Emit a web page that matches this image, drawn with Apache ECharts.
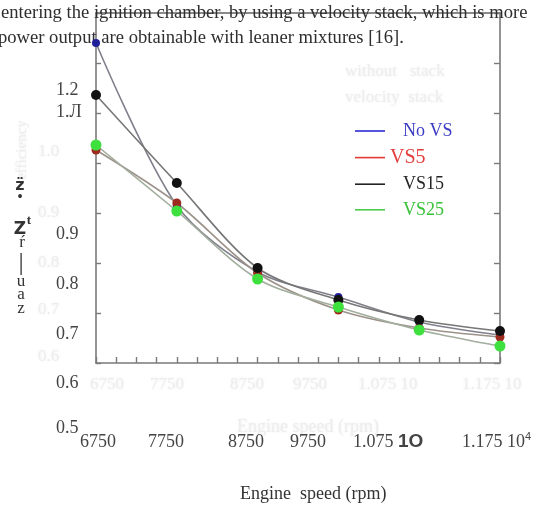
<!DOCTYPE html>
<html>
<head>
<meta charset="utf-8">
<style>
  html, body { margin: 0; padding: 0; background: #fff; }
  #chart { width: 536px; height: 508px; }
</style>
<script src="https://cdn.jsdelivr.net/npm/echarts@6/dist/echarts.min.js"></script>
</head>
<body>
<div id="chart"></div>
<script>
// engine speed (rpm) and the four stack configurations
const speeds = [6750, 7750, 8750, 9750, 10750, 11750];
const noVS = [1.24, 0.915, 0.782, 0.732, 0.682, 0.656];
const vs5 = [1.026, 0.92, 0.78, 0.706, 0.67, 0.652];
const vs15 = [1.136, 0.96, 0.79, 0.726, 0.686, 0.664];
const vs25 = [1.036, 0.904, 0.768, 0.712, 0.666, 0.634];

// stray tick labels as they sit on the page
const yStrayLabels = ["1.2", "1.Л", "0.9", "0.8", "0.7", "0.6", "0.5"];
const xStrayLabels = ["6750", "7750", "8750", "9750", "1.075 {b|1O}", "1.175 10{s|4}"];
const ghostXLabels = ["6750", "7750", "8750", "9750", "1.075 10", "1.175 10"];
const ghostYLabels = ["1.0", "0.9", "0.8", "0.7", "0.6"];

const serif = '"Liberation Serif", "DejaVu Serif", serif';

function txt(x, y, text, opt) {
	opt = opt || {};
	return {
		type: "text",
		x: x,
		y: y,
		z: opt.z || 1,
		rotation: opt.rotation || 0,
		style: {
			text: text,
			fill: opt.color || "#3a3a3a",
			font: (opt.weight || "normal") + " " + (opt.size || 18) + "px " + (opt.family || serif),
			textAlign: opt.align || "left",
			textVerticalAlign: "middle",
			textShadowColor: opt.blur ? opt.color : "transparent",
			textShadowBlur: opt.blur || 0,
			rich: opt.rich
		}
	};
}

const graphics = [];

// paragraph text above the figure
graphics.push(txt(1, 13, "entering the ignition chamber, by using a velocity stack, which is more", {color: "#2e2e2e", size: 18.6}));
graphics.push(txt(-2, 38, "power output are obtainable with leaner mixtures [16].", {color: "#2e2e2e", size: 18.6}));

// faint, blurred ghosts of the original labels
const ghost = {color: "#ededed", size: 17, blur: 3};
const ghostXPos = [90, 150, 230, 293, 358, 462];
ghostXLabels.forEach((t, i) => graphics.push(txt(ghostXPos[i], 385, t, ghost)));
const ghostYPos = [152, 213, 263, 310, 357];
ghostYLabels.forEach((t, i) => graphics.push(txt(38, ghostYPos[i], t, ghost)));
graphics.push(txt(237, 427, "Engine speed (rpm)", Object.assign({}, ghost, {size: 18})));
graphics.push(txt(345, 72, "without   stack", ghost));
graphics.push(txt(345, 98, "velocity  stack", ghost));
graphics.push(txt(22, 150, "efficiency", Object.assign({}, ghost, {size: 15, rotation: Math.PI / 2, align: "center"})));

// visible stray tick labels
const yStrayPos = [90, 112, 234, 284, 334, 383, 428];
yStrayLabels.forEach((t, i) => graphics.push(txt(56, yStrayPos[i], t, {color: "#444", size: 18})));
const xStrayPos = [80, 148, 228, 290, 353, 462];
xStrayLabels.forEach((t, i) => graphics.push(txt(xStrayPos[i], 442, t, {
	color: "#444",
	size: 18,
	rich: {
		b: {fontFamily: '"Liberation Sans", sans-serif', fontWeight: "bold", fontSize: 19, color: "#222"},
		s: {fontSize: 11, verticalAlign: "top", padding: [0, 0, 10, 0], color: "#444"}
	}
})));
graphics.push(txt(240, 494, "Engine  speed (rpm)", {color: "#333", size: 18}));

// garbled vertical y-axis label
const yGlyphs = [
	["z̈", 20, 186, {weight: "bold", size: 16, family: '"DejaVu Sans", sans-serif'}],
	["•", 20, 198, {size: 16}],
	["Z", 20, 230, {weight: "bold", size: 17, family: '"DejaVu Sans", sans-serif'}],
	["t", 29, 221, {size: 13, weight: "bold", family: '"Liberation Serif", serif'}],
	["ŕ", 22, 243, {size: 17}],
	["|", 21, 263, {size: 26}],
	["u", 21, 282, {size: 17}],
	["a", 21, 295, {size: 17}],
	["z", 21, 309, {size: 17}]
];
yGlyphs.forEach(g => graphics.push(txt(g[1], g[2], g[0], Object.assign({color: "#333", align: "center"}, g[3]))));

const axisGray = "#7a7a7a";

const option = {
	backgroundColor: "#fff",
	animation: false,
	grid: {left: 96, right: 36, top: 13, bottom: 145},
	legend: {
		orient: "vertical",
		left: 350,
		top: 117,
		itemWidth: 30,
		itemHeight: 1.6,
		itemGap: 7.6,
		icon: "rect",
		textStyle: {fontFamily: serif, fontSize: 18},
		data: [
			{name: "No VS", itemStyle: {color: "#2b2bd6"}, textStyle: {color: "#3c3cc4", padding: [0, 0, 0, 13]}},
			{name: "VS5", itemStyle: {color: "#e23a36"}, textStyle: {color: "#e33c3c", fontSize: 20}},
			{name: "VS15", itemStyle: {color: "#222"}, textStyle: {color: "#262626", padding: [0, 0, 0, 13]}},
			{name: "VS25", itemStyle: {color: "#4ccc4c"}, textStyle: {color: "#38c238", padding: [0, 0, 0, 13]}}
		]
	},
	xAxis: [
		{
			type: "value",
			min: 6750,
			max: 11750,
			interval: 250,
			axisLine: {lineStyle: {color: axisGray, width: 1.6}},
			axisTick: {inside: true, length: 6, lineStyle: {color: axisGray, width: 1.4}},
			axisLabel: {show: false},
			splitLine: {show: false}
		},
		{
			type: "value",
			position: "top",
			min: 6750,
			max: 11750,
			axisLine: {show: true, lineStyle: {color: "#666", width: 1.6}},
			axisTick: {show: false},
			axisLabel: {show: false},
			splitLine: {show: false}
		}
	],
	yAxis: [
		{
			type: "value",
			min: 0.6,
			max: 1.3,
			interval: 0.1,
			axisLine: {show: true, lineStyle: {color: axisGray, width: 1.6}},
			axisTick: {show: true, inside: true, length: 5, lineStyle: {color: axisGray, width: 1.4}},
			axisLabel: {show: false},
			splitLine: {show: false}
		},
		{
			type: "value",
			position: "right",
			min: 0.6,
			max: 1.3,
			interval: 0.1,
			axisLine: {show: true, lineStyle: {color: axisGray, width: 1.6}},
			axisTick: {show: true, inside: true, length: 6, lineStyle: {color: axisGray, width: 1.4}},
			axisLabel: {show: false},
			splitLine: {show: false}
		}
	],
	series: [
		{
			name: "No VS",
			type: "line",
			smooth: 0.3,
			data: speeds.map((s, i) => [s, noVS[i]]),
			symbol: "circle",
			symbolSize: 8,
			itemStyle: {color: "#1e1e9a"},
			lineStyle: {color: "#80808c", width: 1.6}
		},
		{
			name: "VS5",
			type: "line",
			smooth: 0.3,
			data: speeds.map((s, i) => [s, vs5[i]]),
			symbol: "circle",
			symbolSize: 9,
			itemStyle: {color: "#9c2a1e"},
			lineStyle: {color: "#9c928a", width: 1.6}
		},
		{
			name: "VS15",
			type: "line",
			smooth: 0.3,
			data: speeds.map((s, i) => [s, vs15[i]]),
			symbol: "circle",
			symbolSize: 10,
			itemStyle: {color: "#111"},
			lineStyle: {color: "#767676", width: 1.6}
		},
		{
			name: "VS25",
			type: "line",
			smooth: 0.3,
			data: speeds.map((s, i) => [s, vs25[i]]),
			symbol: "circle",
			symbolSize: 11,
			itemStyle: {color: "#3ee03e"},
			lineStyle: {color: "#a2ae9e", width: 1.6}
		}
	],
	graphic: graphics
};

const myChart = echarts.init(document.getElementById("chart"));
myChart.setOption(option);
</script>
</body>
</html>
